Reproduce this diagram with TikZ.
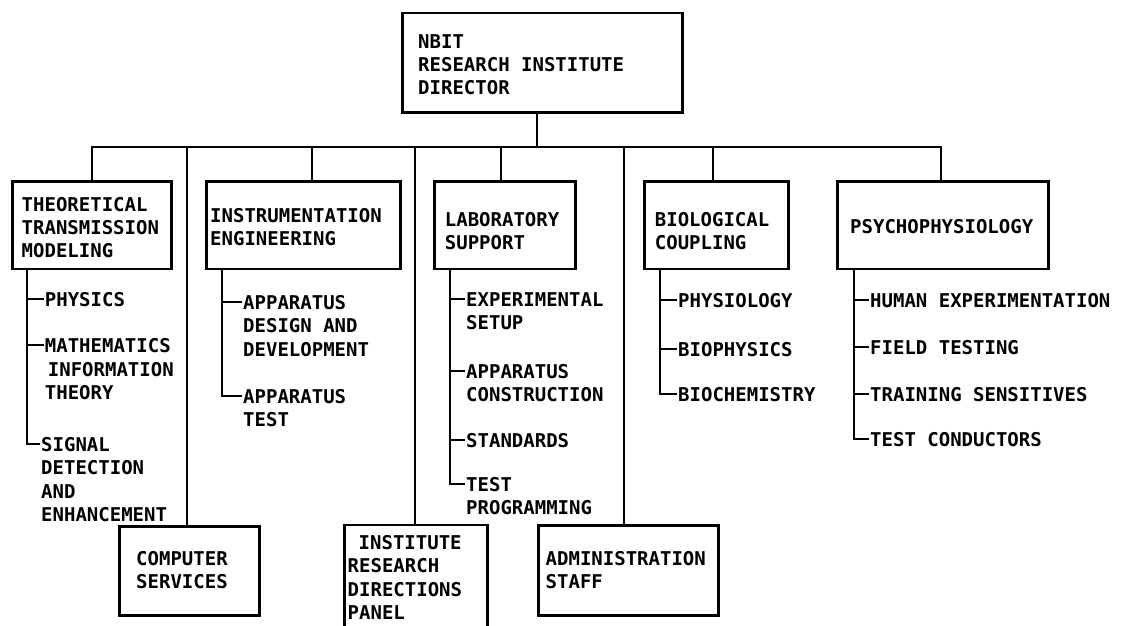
\documentclass[tikz,border=0pt]{standalone}
\usepackage{fontspec}
\newfontfamily\twfont{DejaVu Sans Mono}
\begin{document}
\begin{tikzpicture}[x=1pt,y=-1pt,
  box/.style={draw, line width=2.8pt, anchor=north west, inner sep=0pt},
  lbl/.style={font={\twfont\bfseries\fontsize{19}{23.3}\selectfont}, inner sep=0pt, align=left, anchor=west},
  itm/.style={lbl, anchor=north west},
  conn/.style={line width=2pt},
  longconn/.style={line width=1.7pt}]
\useasboundingbox (0,0) rectangle (1123,625);
\clip (0,0) rectangle (1123,625);

% ---------- boxes ----------
\node[box, minimum width=280, minimum height=99.5] (dir) at (400.7,11.5) {};
\node[box, minimum width=159, minimum height=87.5] (tt) at (11,180) {};
\node[box, minimum width=194, minimum height=87.5] (ins) at (205,180) {};
\node[box, minimum width=140.7, minimum height=87.5] (lab) at (433.3,180) {};
\node[box, minimum width=143.7, minimum height=87.5] (bio) at (643.3,180) {};
\node[box, minimum width=210.7, minimum height=87.5] (psy) at (836.3,180) {};
\node[box, minimum width=140, minimum height=89] (comp) at (118.3,524.7) {};
\node[box, minimum width=142.4, minimum height=130] (panel) at (343.3,523.5) {};
\node[box, minimum width=179.4, minimum height=89.4] (adm) at (537.3,524.3) {};

% ---------- box labels ----------
\node[lbl] (dirt) at (418,64.5) {NBIT\\RESEARCH INSTITUTE\\DIRECTOR};
\node[lbl] (ttt) at (21.5,227.5) {THEORETICAL\\TRANSMISSION\\MODELING};
\node[lbl] (inst) at (210,227) {INSTRUMENTATION\\ENGINEERING};
\node[lbl] (labt) at (444.7,231) {LABORATORY\\SUPPORT};
\node[lbl] (biot) at (654.7,231) {BIOLOGICAL\\COUPLING};
\node[lbl] (psyt) at (850,226.7) {PSYCHOPHYSIOLOGY};
\node[lbl] (compt) at (136,570) {COMPUTER\\SERVICES};
\node[itm] (panelt) at (347.5,535.1) {\hspace*{11pt}INSTITUTE\\RESEARCH\\DIRECTIONS\\PANEL};
\node[lbl] (admt) at (545.5,570.3) {ADMINISTRATION\\STAFF};

% ---------- top stem and bus ----------
\coordinate (stem) at (536.7,146.5);
\coordinate (dTT) at (91.7,146.5);
\coordinate (dCS) at (186.7,146.5);
\coordinate (dIN) at (311.7,146.5);
\coordinate (dPN) at (414.7,146.5);
\coordinate (dLB) at (501.3,146.5);
\coordinate (dAD) at (624,146.5);
\coordinate (dBI) at (713.3,146.5);
\coordinate (dPS) at (941.3,146.5);
\draw[conn] (stem |- dir.south) -- (stem);
\draw[conn] (dTT |- tt.north) -- (dTT) -- (dPS) -- (dPS |- psy.north);
\draw[conn] (dIN) -- (dIN |- ins.north);
\draw[conn] (dLB) -- (dLB |- lab.north);
\draw[conn] (dBI) -- (dBI |- bio.north);
\draw[longconn] (dCS) -- (dCS |- comp.north);
\draw[longconn] (dPN) -- (dPN |- panel.north);
\draw[longconn] (dAD) -- (dAD |- adm.north);

% ---------- theoretical list ----------
\coordinate (ttl) at ([xshift=15.7pt]tt.south west);
\node[itm] (tt1) at (44.7,292.1) {PHYSICS};
\node[itm] (tt2) at (44.7,338.4) {MATHEMATICS\\\hspace*{3pt}INFORMATION\\THEORY};
\node[itm] (tt3) at (41,437.1) {SIGNAL\\DETECTION\\AND\\ENHANCEMENT};
\coordinate (tt1c) at ([xshift=-1pt,yshift=-6.9pt]tt1.north west);
\coordinate (tt2c) at ([xshift=-1pt,yshift=-6.9pt]tt2.north west);
\coordinate (tt3c) at ([xshift=-1pt,yshift=-6.9pt]tt3.north west);
\draw[conn] (ttl) |- (tt3c);
\draw[conn] (ttl |- tt1c) -- (tt1c);
\draw[conn] (ttl |- tt2c) -- (tt2c);

% ---------- instrumentation list ----------
\coordinate (inl) at ([xshift=16.7pt]ins.south west);
\node[itm] (in1) at (243,295.1) {APPARATUS\\DESIGN AND\\DEVELOPMENT};
\node[itm] (in2) at (243,389.1) {APPARATUS\\TEST};
\coordinate (in1c) at ([xshift=-1pt,yshift=-6.9pt]in1.north west);
\coordinate (in2c) at ([xshift=-1pt,yshift=-6.9pt]in2.north west);
\draw[conn] (inl) |- (in2c);
\draw[conn] (inl |- in1c) -- (in1c);

% ---------- laboratory list ----------
\coordinate (lbl) at ([xshift=16.7pt]lab.south west);
\node[itm] (lb1) at (466,292.4) {EXPERIMENTAL\\SETUP};
\node[itm] (lb2) at (466,364.1) {APPARATUS\\CONSTRUCTION};
\node[itm] (lb3) at (466,433.4) {STANDARDS};
\node[itm] (lb4) at (466,477.1) {TEST\\PROGRAMMING};
\coordinate (lb1c) at ([xshift=-1pt,yshift=-6.9pt]lb1.north west);
\coordinate (lb2c) at ([xshift=-1pt,yshift=-6.9pt]lb2.north west);
\coordinate (lb3c) at ([xshift=-1pt,yshift=-6.9pt]lb3.north west);
\coordinate (lb4c) at ([xshift=-1pt,yshift=-6.9pt]lb4.north west);
\draw[conn] (lbl) |- (lb4c);
\draw[conn] (lbl |- lb1c) -- (lb1c);
\draw[conn] (lbl |- lb2c) -- (lb2c);
\draw[conn] (lbl |- lb3c) -- (lb3c);

% ---------- biological list ----------
\coordinate (bil) at ([xshift=16.7pt]bio.south west);
\node[itm] (bi1) at (678,293.1) {PHYSIOLOGY};
\node[itm] (bi2) at (678,341.8) {BIOPHYSICS};
\node[itm] (bi3) at (678,386.8) {BIOCHEMISTRY};
\coordinate (bi1c) at ([xshift=-1pt,yshift=-6.9pt]bi1.north west);
\coordinate (bi2c) at ([xshift=-1pt,yshift=-6.9pt]bi2.north west);
\coordinate (bi3c) at ([xshift=-1pt,yshift=-6.9pt]bi3.north west);
\draw[conn] (bil) |- (bi3c);
\draw[conn] (bil |- bi1c) -- (bi1c);
\draw[conn] (bil |- bi2c) -- (bi2c);

% ---------- psychophysiology list ----------
\coordinate (psl) at ([xshift=17.7pt]psy.south west);
\node[itm] (ps1) at (870,293.1) {HUMAN EXPERIMENTATION};
\node[itm] (ps2) at (870,340.1) {FIELD TESTING};
\node[itm] (ps3) at (870,386.8) {TRAINING SENSITIVES};
\node[itm] (ps4) at (870,432.1) {TEST CONDUCTORS};
\coordinate (ps1c) at ([xshift=-1pt,yshift=-6.9pt]ps1.north west);
\coordinate (ps2c) at ([xshift=-1pt,yshift=-6.9pt]ps2.north west);
\coordinate (ps3c) at ([xshift=-1pt,yshift=-6.9pt]ps3.north west);
\coordinate (ps4c) at ([xshift=-1pt,yshift=-6.9pt]ps4.north west);
\draw[conn] (psl) |- (ps4c);
\draw[conn] (psl |- ps1c) -- (ps1c);
\draw[conn] (psl |- ps2c) -- (ps2c);
\draw[conn] (psl |- ps3c) -- (ps3c);
\end{tikzpicture}
\end{document}
